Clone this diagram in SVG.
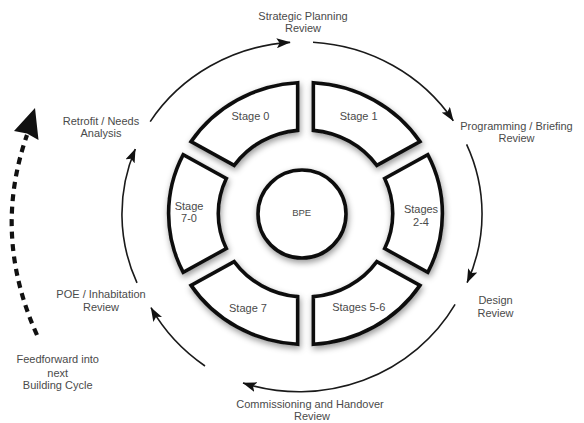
<svg xmlns="http://www.w3.org/2000/svg" width="584" height="423" viewBox="0 0 584 423">
<defs>
<style>
.seg{fill:#fff;stroke:#111;stroke-width:3.6;stroke-linejoin:miter;filter:url(#sh)}
.lbl{font-family:"Liberation Sans",Arial,sans-serif;font-size:11px;fill:#4a4a4a;text-anchor:middle}
.arc{fill:none;stroke:#1a1a1a;stroke-width:1.6;marker-end:url(#ah)}
</style>
<filter id="sh" x="-20%" y="-20%" width="140%" height="140%">
<feDropShadow dx="1" dy="3" stdDeviation="3" flood-color="#000" flood-opacity="0.4"/>
</filter>
<marker id="ah" viewBox="0 0 14 10" refX="13.5" refY="5" markerWidth="14" markerHeight="10" markerUnits="userSpaceOnUse" orient="auto">
<path d="M0,0 L14,5 L0,10 L3,5 Z" fill="#111"/>
</marker>
</defs>
<rect width="584" height="423" fill="#fff"/>

<g id="connectors">
<path class="arc" d="M150.2,121.6 A180,172 0 0 1 290.1,42.4"/>
<path class="arc" d="M313,42.3 A180,172 0 0 1 453.3,120.8"/>
<path class="arc" d="M466.6,144.3 A180,172 0 0 1 467.1,282.6"/>
<path class="arc" d="M455.1,304.4 A180,175 0 0 1 243,383"/>
<path class="arc" d="M205,366 A180,175 0 0 1 151,307.7"/>
<path class="arc" d="M137,282.9 A180,172 0 0 1 135.3,149"/>
<path d="M37,335 Q-8,235 27,135" fill="none" stroke="#111" stroke-width="4.2" stroke-dasharray="7 5.5"/>
<path d="M35,108 L38.5,140 L27,133.5 L14,131 Z" fill="#111"/>
</g>

<g id="stage0">
<path class="seg" vector-effect="non-scaling-stroke" transform="translate(305.5,213.5) scale(1.045,1)" d="M-109.51,-71.885 A131,131 0 0 1 -7.5,-130.78 L-7.5,-83.16 A83.5,83.5 0 0 0 -68.27,-48.075 Z"/>
<text class="lbl" x="250.5" y="120">Stage 0</text>
</g>
<g id="stage1">
<path class="seg" vector-effect="non-scaling-stroke" transform="translate(305.5,213.5) scale(1.045,1)" d="M7.5,-130.78 A131,131 0 0 1 109.51,-71.885 L68.27,-48.075 A83.5,83.5 0 0 0 7.5,-83.16 Z"/>
<text class="lbl" x="358.7" y="120">Stage 1</text>
</g>
<g id="stages2-4">
<path class="seg" vector-effect="non-scaling-stroke" transform="translate(305.5,213.5) scale(1.045,1)" d="M117.01,-58.895 A131,131 0 0 1 117.01,58.895 L75.77,35.085 A83.5,83.5 0 0 0 75.77,-35.085 Z"/>
<text class="lbl" x="421" y="213.3">Stages</text>
<text class="lbl" x="421" y="225.5">2-4</text>
</g>
<g id="stages5-6">
<path class="seg" vector-effect="non-scaling-stroke" transform="translate(305.5,213.5) scale(1.045,1)" d="M109.51,71.885 A131,131 0 0 1 7.5,130.78 L7.5,83.16 A83.5,83.5 0 0 0 68.27,48.075 Z"/>
<text class="lbl" x="358.8" y="310.7">Stages 5-6</text>
</g>
<g id="stage7">
<path class="seg" vector-effect="non-scaling-stroke" transform="translate(305.5,213.5) scale(1.045,1)" d="M-7.5,130.78 A131,131 0 0 1 -109.51,71.885 L-68.27,48.075 A83.5,83.5 0 0 0 -7.5,83.16 Z"/>
<text class="lbl" x="248" y="311.7">Stage 7</text>
</g>
<g id="stage7-0">
<path class="seg" vector-effect="non-scaling-stroke" transform="translate(305.5,213.5) scale(1.045,1)" d="M-117.01,58.895 A131,131 0 0 1 -117.01,-58.895 L-75.77,-35.085 A83.5,83.5 0 0 0 -75.77,35.085 Z"/>
<text class="lbl" x="189" y="210">Stage</text>
<text class="lbl" x="189" y="222.3">7-0</text>
</g>
<g id="bpe">
<circle class="seg" cx="302" cy="214" r="44"/>
<text class="lbl" x="301.7" y="216" style="font-size:9.5px">BPE</text>
</g>

<g id="strategic">
<text class="lbl" x="303" y="19.5">Strategic Planning</text>
<text class="lbl" x="303" y="32">Review</text>
</g>
<g id="programming">
<text class="lbl" x="516.5" y="130">Programming / Briefing</text>
<text class="lbl" x="516.5" y="142">Review</text>
</g>
<g id="design">
<text class="lbl" x="495.5" y="304.3">Design</text>
<text class="lbl" x="495.5" y="316.7">Review</text>
</g>
<g id="commissioning">
<text class="lbl" x="310" y="407.5">Commissioning and Handover</text>
<text class="lbl" x="312" y="419.5">Review</text>
</g>
<g id="poe">
<text class="lbl" x="101" y="298.3">POE / Inhabitation</text>
<text class="lbl" x="101" y="311">Review</text>
</g>
<g id="retrofit">
<text class="lbl" x="101" y="125">Retrofit / Needs</text>
<text class="lbl" x="101" y="137.3">Analysis</text>
</g>
<g id="feedforward">
<text class="lbl" x="57.7" y="363.3">Feedforward into</text>
<text class="lbl" x="57.7" y="376.7">next</text>
<text class="lbl" x="57.7" y="389.3">Building Cycle</text>
</g>
</svg>
